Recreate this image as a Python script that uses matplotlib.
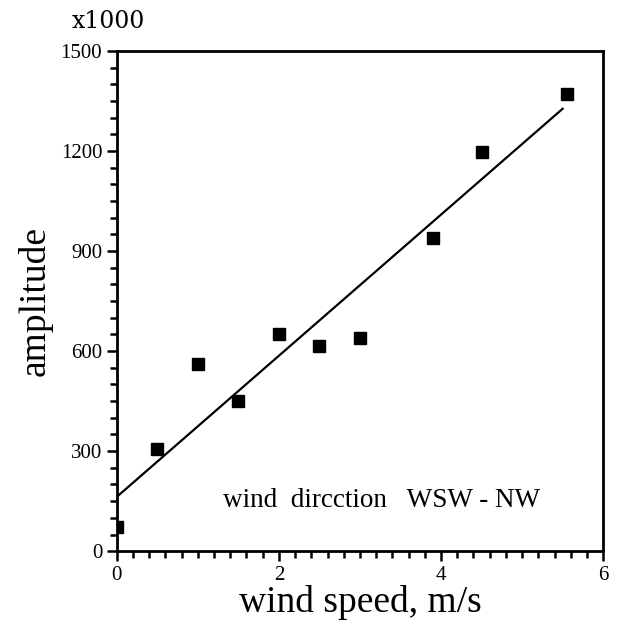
import numpy as np
import matplotlib.pyplot as plt
from matplotlib.ticker import MultipleLocator

# wind speed (m/s) and amplitude
wind_speed = [0.0, 0.5, 1.0, 1.5, 2.0, 2.5, 3.0, 3.9, 4.5, 5.55]
amplitude = [72, 305, 560, 450, 650, 615, 640, 940, 1197, 1372]
fit_range = [0.0, 5.5]

x_ticks = [0, 2, 4, 6]
y_ticks = [0, 300, 600, 900, 1200, 1500]

plt.rcParams['font.family'] = ['Liberation Serif', 'DejaVu Serif']

fig = plt.figure(figsize=(6.18, 6.20), dpi=100)
ax = fig.add_axes([0.189, 0.111, 0.787, 0.807])

ax.plot(wind_speed, amplitude, 's', color='black', markersize=9, zorder=3)

# least squares line
slope, icept = np.polyfit(wind_speed, amplitude, 1)
xf = np.array(fit_range)
ax.plot(xf, slope * xf + icept, color='black', lw=1.6)

ax.set_xlim(0, 6)
ax.set_ylim(0, 1500)
ax.set_xticks(x_ticks)
ax.set_yticks(y_ticks)
ax.xaxis.set_minor_locator(MultipleLocator(0.2))
ax.yaxis.set_minor_locator(MultipleLocator(50))
ax.tick_params(which='both', direction='out', width=1.8, labelsize=15, pad=3)
ax.tick_params(which='major', length=7.5)
ax.tick_params(which='minor', length=5)
for s in ax.spines.values():
    s.set_linewidth(2)

ax.set_xlabel('wind speed, m/s', fontsize=27, labelpad=0)
ax.set_ylabel('amplitude', fontsize=27, labelpad=6)
ax.text(-0.092, 1.035, 'x1000', transform=ax.transAxes, fontsize=17,
        family='DejaVu Serif', ha='left', va='bottom')
ax.text(3.27, 153, 'wind  dircction   WSW - NW', fontsize=19.5, ha='center', va='center')

fig.savefig('out.png', dpi=100)
